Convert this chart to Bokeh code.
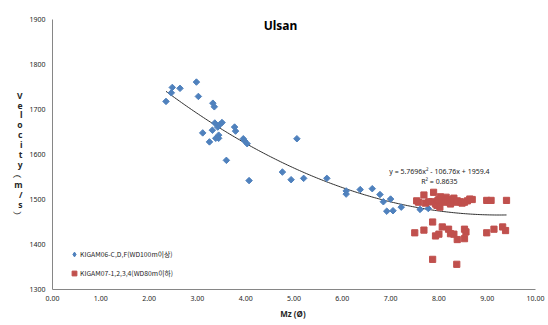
import numpy as np
from bokeh.plotting import figure
from bokeh.models import Range1d, FixedTicker, NumeralTickFormatter, Label, Legend, LegendItem
from bokeh.embed import file_html
from bokeh.resources import INLINE

# ---- data ----
blue_x = [2.35, 2.46, 2.48, 2.64, 2.98, 3.02, 3.32, 3.35, 3.11, 3.25, 3.31, 3.36, 3.42, 3.44,
          3.38, 3.44, 3.47, 3.51, 3.60, 3.77, 3.79, 3.95, 3.98, 4.03, 4.07, 4.76, 4.94, 5.06,
          5.20, 5.68, 6.08, 6.08, 6.37, 6.62, 6.78, 6.85, 6.92, 7.00, 7.05, 7.22, 7.61, 7.78]
blue_y = [1718, 1737, 1749, 1747, 1761, 1729, 1714, 1706, 1648, 1628, 1654, 1670, 1661, 1643,
          1636, 1636, 1667, 1671, 1587, 1661, 1652, 1635, 1630, 1624, 1542, 1561, 1544, 1635,
          1547, 1547, 1519, 1512, 1522, 1524, 1511, 1495, 1474, 1501, 1475, 1483, 1478, 1480]

red_x = [7.54, 7.58, 7.69, 7.72, 7.79, 7.86, 7.89, 7.93, 7.96, 7.98, 8.00, 8.02, 8.03, 8.06,
         8.10, 8.12, 8.15, 8.17, 8.21, 8.24, 8.28, 8.31, 8.35, 8.38, 8.44, 8.48, 8.53, 8.59,
         8.64, 8.69, 8.99, 9.08, 9.40,
         7.50, 7.69, 7.87, 7.87, 7.93, 8.00, 8.07, 8.20, 8.24, 8.31, 8.38, 8.37, 8.53, 8.56,
         8.53, 8.99, 9.14, 9.32, 9.38]
red_y = [1497, 1494, 1510, 1492, 1495, 1495, 1516, 1490, 1487, 1498, 1500, 1483, 1506, 1497,
         1502, 1494, 1505, 1499, 1495, 1490, 1500, 1503, 1494, 1497, 1495, 1492, 1494, 1497,
         1501, 1500, 1498, 1498, 1498,
         1426, 1432, 1450, 1367, 1419, 1423, 1439, 1434, 1424, 1423, 1411, 1356, 1434, 1428,
         1413, 1426, 1434, 1439, 1431]

x_ticks = [0, 1, 2, 3, 4, 5, 6, 7, 8, 9, 10]
y_ticks = [1300, 1400, 1500, 1600, 1700, 1800, 1900]

trend_coef = [5.7696, -106.76, 1959.4]

title_text = "Ulsan"
eq_text = "y = 5.7696x² - 106.76x + 1959.4"
r2_text = "R² = 0.8635"
blue_name = "KIGAM06-C,D,F(WD100m이상)"
red_name = "KIGAM07-1,2,3,4(WD80m이하)"
x_label = "Mz  (Ø)"
y_label = "\n".join(list("Velocity") + ["︵", "m", "/", "s", "︶"])

FONT = "Noto Sans"
TXT = "#262626"
BLUE = "#4F81BD"
RED = "#C0504D"

p = figure(width=548, height=325, output_backend="svg", toolbar_location=None,
           x_range=Range1d(0, 10), y_range=Range1d(1300, 1900),
           min_border_left=52, min_border_right=13, min_border_top=19, min_border_bottom=36)
p.outline_line_color = None
p.grid.visible = False
p.background_fill_color = "white"
p.border_fill_color = "white"

# trendline from the coefficients shown on the chart
all_x = blue_x + red_x
tx = np.linspace(min(all_x), max(all_x), 200)
ty = np.polyval(trend_coef, tx)
p.line(tx, ty, line_color="#303030", line_width=1)

rb = p.scatter(blue_x, blue_y, marker="square", angle=np.pi / 4, size=4.6,
               fill_color=BLUE, line_color=BLUE)
rr = p.scatter(red_x, red_y, marker="square", size=6.2,
               fill_color=RED, line_color=RED)
# legend-only glyph (diamond shape for the legend entry); NaN point is never drawn in the plot
rb_leg = p.scatter([np.nan], [np.nan], marker="diamond", size=6, fill_color=BLUE, line_color=BLUE)

# axes
for ax in (p.xaxis[0], p.yaxis[0]):
    ax.axis_line_color = "#868686"
    ax.axis_line_width = 1
    ax.major_tick_line_color = None
    ax.minor_tick_line_color = None
    ax.major_tick_out = 0
    ax.major_tick_in = 0
    ax.major_label_text_font = FONT
    ax.major_label_text_font_size = "7px"
    ax.major_label_text_color = TXT
    ax.axis_label_text_font = FONT
    ax.axis_label_text_font_style = "bold"
    ax.axis_label_text_color = TXT

p.xaxis.ticker = FixedTicker(ticks=x_ticks)
p.xaxis.formatter = NumeralTickFormatter(format="0.00")
p.xaxis.major_label_standoff = 6
p.xaxis.axis_label = x_label
p.xaxis.axis_label_text_font_size = "8px"
p.xaxis.axis_label_standoff = 4

p.yaxis.ticker = FixedTicker(ticks=y_ticks)
p.yaxis.major_label_standoff = 7
p.yaxis.axis_label = y_label
p.yaxis.axis_label_orientation = "horizontal"
p.yaxis.axis_label_text_font_size = "8.5px"
p.yaxis.axis_label_text_line_height = 0.9
p.yaxis.axis_label_standoff = 4

# title inside the plot area
p.add_layout(Label(x=4.72, y=1886, text=title_text, text_align="center", text_baseline="middle",
                   text_font=FONT, text_font_size="12px", text_font_style="bold", text_color="black"))

# trendline equation
p.add_layout(Label(x=8.01, y=1563, text=eq_text, text_align="center", text_baseline="middle",
                   text_font=FONT, text_font_size="7px", text_color=TXT))
p.add_layout(Label(x=8.01, y=1541, text=r2_text, text_align="center", text_baseline="middle",
                   text_font=FONT, text_font_size="7px", text_color=TXT))

legend = Legend(items=[LegendItem(label=blue_name, renderers=[rb_leg], index=0),
                       LegendItem(label=red_name, renderers=[rr], index=0)],
                location=(16, 9), glyph_width=12, glyph_height=14, label_height=14,
                label_standoff=0, spacing=5, padding=0, margin=0,
                border_line_color=None, background_fill_alpha=0,
                label_text_font="Noto Sans CJK KR", label_text_font_size="6.8px",
                label_text_color=TXT)
p.add_layout(legend)

open("out.html", "w").write(file_html(p, INLINE))
